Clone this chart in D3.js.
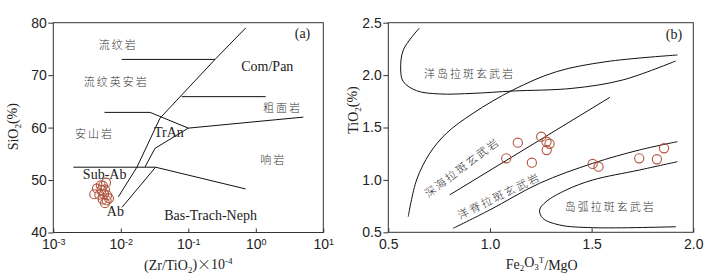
<!DOCTYPE html>
<html>
<head>
<meta charset="utf-8">
<script src="https://cdn.jsdelivr.net/npm/d3@7"></script>
<style>
  body { margin: 0; background: #fff; }
  svg { display: block; font-family: "Liberation Serif", "Times New Roman", serif; fill: #222; }
  .cn { font-family: "Noto Sans CJK SC", sans-serif; font-size: 11px; font-weight: 300; letter-spacing: 2px; fill: #333; }
</style>
</head>
<body>
<div id="chart"></div>
<script>
// ---------- panel (a): SiO2 vs Zr/TiO2 ----------
const zrTiTicks = [1e-3, 1e-2, 1e-1, 1, 10];
const sioTicks = [40, 50, 60, 70, 80];

const samplesA = [
  [0.00404, 47.3], [0.00443, 48.4], [0.00504, 49.0], [0.00604, 49.5],
  [0.00518, 48.1], [0.00583, 48.2], [0.00480, 47.2], [0.00564, 47.3],
  [0.00626, 47.1], [0.00540, 46.3], [0.00618, 46.1], [0.00583, 45.6],
  [0.00668, 46.5], [0.00545, 48.9]
];

// boundary lines [Zr/TiO2, SiO2]
const lineComPan = [[0.708, 79.0], [0.249, 73.0], [0.0381, 61.8], [0.0174, 52.5], [0.0092, 46.8]];
const lineRhyolite = [[0.0103, 73.0], [0.249, 73.0]];
const lineTrachyte = [[0.0798, 65.9], [1.40, 65.9]];
const lineAndesite = [[0.00574, 62.9], [0.0271, 62.9], [0.1, 59.9], [5.06, 62.0]];
const lineTrAn = [[0.1, 59.9], [0.0321, 56.05], [0.02285, 52.5]];
const lineSubAb = [[0.00198, 52.45], [0.0327, 52.45], [0.708, 48.3]];
const lineAb = [[0.0327, 52.45], [0.01042, 44.8]];

const labelsA = [
  { text: "流纹岩", x: 0.0092, y: 75.9, cn: true },
  { text: "流纹英安岩", x: 0.00858, y: 68.9, cn: true },
  { text: "Com/Pan", x: 1.48, y: 71.6 },
  { text: "粗面岩", x: 2.49, y: 63.9, cn: true },
  { text: "安山岩", x: 0.00407, y: 59.0, cn: true },
  { text: "TrAn", x: 0.0517, y: 59.0 },
  { text: "响岩", x: 1.82, y: 54.0, cn: true },
  { text: "Sub-Ab", x: 0.00576, y: 51.0 },
  { text: "Ab", x: 0.0083, y: 44.0 },
  { text: "Bas-Trach-Neph", x: 0.2135, y: 43.3 },
  { text: "(a)", x: 4.92, y: 77.85 }
];

// ---------- panel (b): TiO2 vs Fe2O3T/MgO ----------
const feMgTicks = [0.5, 1.0, 1.5, 2.0];
const tiTicks = [0.5, 1.0, 1.5, 2.0, 2.5];

const samplesB = [
  [1.137, 1.355], [1.252, 1.412], [1.278, 1.364], [1.293, 1.345],
  [1.279, 1.285], [1.080, 1.206], [1.206, 1.164], [1.505, 1.152],
  [1.534, 1.126], [1.734, 1.206], [1.821, 1.197], [1.856, 1.302]
];

const curveOIB = [[0.652, 2.447], [0.574, 2.240], [0.561, 2.049], [0.574, 1.937], [0.639, 1.851],
  [0.753, 1.820], [0.917, 1.826], [1.113, 1.848], [1.407, 1.874], [1.652, 1.953], [1.914, 2.135]];
const curveOuter = [[0.598, 0.649], [0.639, 0.999], [0.704, 1.254], [0.786, 1.445], [0.917, 1.636],
  [1.113, 1.858], [1.326, 2.032], [1.571, 2.128], [1.922, 2.192]];
const lineDeepSea = [[0.802, 0.857], [1.590, 1.788]];
const curveMORB = [[0.819, 0.538], [0.999, 0.713], [1.244, 0.968], [1.505, 1.158], [1.734, 1.285], [1.922, 1.365]];
const curveArc = [[1.922, 1.174], [1.734, 1.094], [1.505, 0.999], [1.375, 0.904], [1.276, 0.792],
  [1.244, 0.713], [1.260, 0.634], [1.342, 0.570], [1.505, 0.544], [1.914, 0.553]];

const labelsB = [
  { text: "洋岛拉斑玄武岩", x: 0.899, y: 2.023, cn: true },
  { text: "(b)", x: 1.905, y: 2.392 },
  { text: "深海拉斑玄武岩", x: 0.86, y: 1.126, cn: true, rot: -37 },
  { text: "洋脊拉斑玄武岩", x: 1.043, y: 0.856, cn: true, rot: -26 },
  { text: "岛弧拉斑玄武岩", x: 1.592, y: 0.751, cn: true }
];

const svg = d3.select("#chart").append("svg")
  .attr("width", 713)
  .attr("height", 280);

function drawLabels(g, labels, x, y) {
  labels.forEach(l => {
    const t = g.append("text")
      .attr("text-anchor", "middle")
      .attr("dominant-baseline", "central")
      .attr("transform", `translate(${x(l.x)},${y(l.y)}) rotate(${l.rot || 0})`)
      .text(l.text);
    if (l.cn) t.attr("class", "cn");
    else t.style("font-size", "14px");
  });
}

function drawFrame(g, w, h) {
  g.append("rect")
    .attr("width", w)
    .attr("height", h)
    .attr("fill", "none")
    .attr("stroke", "#333")
    .attr("stroke-width", 1);
}

function styleAxis(ax) {
  ax.select(".domain").remove();
  ax.selectAll(".tick line").attr("stroke", "#333");
  ax.selectAll(".tick text").attr("fill", "#222").style("font-size", "14px");
}

// ----- panel (a) -----
const aw = 270, ah = 209.8;
const ga = svg.append("g").attr("transform", "translate(53.3,22.7)");
const xa = d3.scaleLog().domain([1e-3, 10]).range([0, aw]);
const ya = d3.scaleLinear().domain([40, 80]).range([ah, 0]);

const xAxisA = ga.append("g")
  .attr("transform", `translate(0,${ah})`)
  .call(d3.axisBottom(xa).tickValues(zrTiTicks).tickSizeInner(-4).tickSizeOuter(0).tickPadding(7).tickFormat(() => ""));
styleAxis(xAxisA);
xAxisA.selectAll(".tick text").each(function (d) {
  const t = d3.select(this);
  t.text("10");
  t.append("tspan").attr("dy", "-0.45em").style("font-size", "9px").text(Math.round(Math.log10(d)));
});

const yAxisA = ga.append("g")
  .call(d3.axisLeft(ya).tickValues(sioTicks).tickSizeInner(5).tickSizeOuter(0).tickPadding(1.5));
styleAxis(yAxisA);

drawFrame(ga, aw, ah);

const lineA = d3.line().x(d => xa(d[0])).y(d => ya(d[1]));
[lineComPan, lineRhyolite, lineTrachyte, lineAndesite, lineTrAn, lineSubAb, lineAb].forEach(l => {
  ga.append("path").attr("d", lineA(l)).attr("fill", "none").attr("stroke", "#111").attr("stroke-width", 1);
});

drawLabels(ga, labelsA, xa, ya);

ga.selectAll("circle.s")
  .data(samplesA)
  .enter()
  .append("circle")
  .attr("cx", d => xa(d[0]))
  .attr("cy", d => ya(d[1]))
  .attr("r", 4.5)
  .attr("fill", "none")
  .attr("stroke", "#b0553e")
  .attr("stroke-width", 1.1);

// axis titles (a)
const xtA = svg.append("text").attr("x", 188.3).attr("y", 270).attr("text-anchor", "middle").style("font-size", "14px");
xtA.append("tspan").text("(Zr/TiO");
xtA.append("tspan").attr("dy", "0.3em").style("font-size", "9px").text("2");
xtA.append("tspan").attr("dy", "-0.3em").text(")");
xtA.append("tspan").attr("class", "cn").style("font-size", "14px").style("letter-spacing", "0px").style("fill", "#222").text("×");
xtA.append("tspan").text("10");
xtA.append("tspan").attr("dy", "-0.5em").style("font-size", "9px").text("-4");

const ytA = svg.append("text").attr("transform", "translate(18,126.7) rotate(-90)").attr("text-anchor", "middle").style("font-size", "14px");
ytA.append("tspan").text("SiO");
ytA.append("tspan").attr("dy", "0.3em").style("font-size", "9px").text("2");
ytA.append("tspan").attr("dy", "-0.3em").text("(%)");

// ----- panel (b) -----
const bw = 305, bh = 209.6;
const gb = svg.append("g").attr("transform", "translate(388.3,22.7)");
const xb = d3.scaleLinear().domain([0.5, 2.0]).range([0, bw]);
const yb = d3.scaleLinear().domain([0.5, 2.5]).range([bh, 0]);

const xAxisB = gb.append("g")
  .attr("transform", `translate(0,${bh})`)
  .call(d3.axisBottom(xb).tickValues(feMgTicks).tickSizeInner(-4).tickSizeOuter(0).tickPadding(7).tickFormat(d3.format(".1f")));
styleAxis(xAxisB);

const yAxisB = gb.append("g")
  .call(d3.axisLeft(yb).tickValues(tiTicks).tickSizeInner(5).tickSizeOuter(0).tickPadding(1.5).tickFormat(d3.format(".1f")));
styleAxis(yAxisB);

drawFrame(gb, bw, bh);

const lineB = d3.line().x(d => xb(d[0])).y(d => yb(d[1])).curve(d3.curveCatmullRom.alpha(0.5));
[curveOIB, curveOuter, lineDeepSea, curveMORB, curveArc].forEach(l => {
  gb.append("path").attr("d", lineB(l)).attr("fill", "none").attr("stroke", "#111").attr("stroke-width", 1);
});

drawLabels(gb, labelsB, xb, yb);

gb.selectAll("circle.s")
  .data(samplesB)
  .enter()
  .append("circle")
  .attr("cx", d => xb(d[0]))
  .attr("cy", d => yb(d[1]))
  .attr("r", 4.6)
  .attr("fill", "none")
  .attr("stroke", "#b0553e")
  .attr("stroke-width", 1.1);

// axis titles (b)
const xtB = svg.append("text").attr("x", 541.7).attr("y", 268.5).attr("text-anchor", "middle").style("font-size", "14px");
xtB.append("tspan").text("Fe");
xtB.append("tspan").attr("dy", "0.3em").style("font-size", "9px").text("2");
xtB.append("tspan").attr("dy", "-0.3em").text("O");
xtB.append("tspan").attr("dy", "0.3em").style("font-size", "9px").text("3");
xtB.append("tspan").attr("dy", "-0.8em").style("font-size", "9px").text("T");
xtB.append("tspan").attr("dy", "0.5em").text("/MgO");

const ytB = svg.append("text").attr("transform", "translate(358,110) rotate(-90)").attr("text-anchor", "middle").style("font-size", "14px");
ytB.append("tspan").text("TiO");
ytB.append("tspan").attr("dy", "0.3em").style("font-size", "9px").text("2");
ytB.append("tspan").attr("dy", "-0.3em").text("(%)");
</script>
</body>
</html>
